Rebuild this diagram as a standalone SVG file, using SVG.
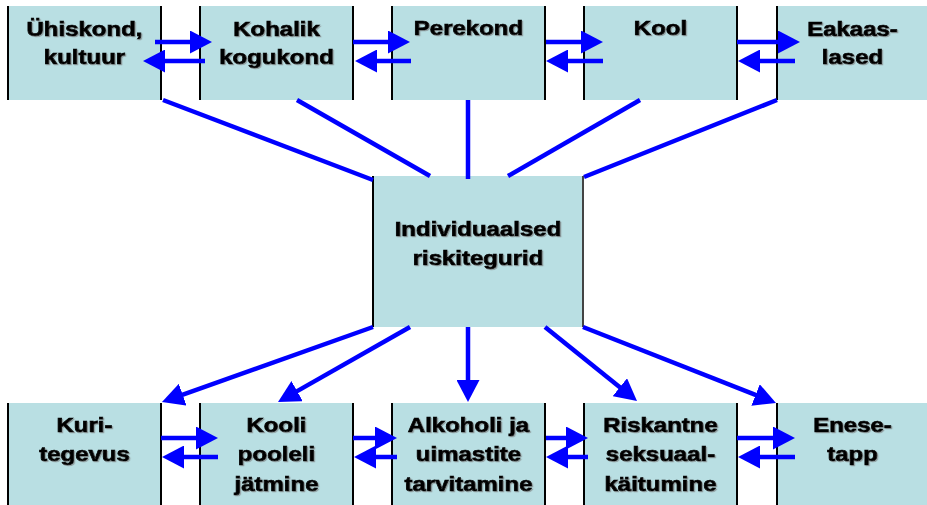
<svg xmlns="http://www.w3.org/2000/svg" width="927" height="505" viewBox="0 0 927 505">
<style>
.box{fill:#B9DFE3;stroke:none}
.side{stroke:#000;stroke-width:2}
.lbl{font-family:"Liberation Sans",Arial,sans-serif;font-weight:bold;font-size:20px;fill:#000;stroke:#000;stroke-width:0.7;text-anchor:middle}
.c{stroke:#0000FF;stroke-width:4.5;fill:none}
.a{stroke:#0000FF;stroke-width:4.5;fill:none;marker-end:url(#ah)}
</style>
<defs>
<marker id="ah" markerUnits="userSpaceOnUse" viewBox="0 0 22 23" markerWidth="22" markerHeight="23" refX="2" refY="11.5" orient="auto">
<path d="M0,0 L22,11.5 L0,23 z" fill="#0000FF"/>
</marker>
<filter id="sh" x="-5%" y="-5%" width="110%" height="110%">
<feDropShadow dx="1" dy="1" stdDeviation="0.6" flood-color="#777" flood-opacity="0.6"/>
</filter>
</defs>
<rect width="927" height="505" fill="#fff"/>

<g id="n1">
<rect class="box" x="8" y="6" width="153" height="94"/>
<line class="side" x1="8" y1="6" x2="8" y2="100"/><line class="side" x1="161" y1="6" x2="161" y2="100"/>
<text class="lbl" filter="url(#sh)" transform="translate(84.5 36) scale(1.2 1)"><tspan x="0" y="0">Ühiskond,</tspan><tspan x="0" y="28.5">kultuur</tspan></text>
</g>
<g id="n2">
<rect class="box" x="200" y="6" width="153" height="94"/>
<line class="side" x1="200" y1="6" x2="200" y2="100"/><line class="side" x1="353" y1="6" x2="353" y2="100"/>
<text class="lbl" filter="url(#sh)" transform="translate(276.5 36) scale(1.2 1)"><tspan x="0" y="0">Kohalik</tspan><tspan x="0" y="28.5">kogukond</tspan></text>
</g>
<g id="n3">
<rect class="box" x="392" y="6" width="153" height="94"/>
<line class="side" x1="392" y1="6" x2="392" y2="100"/><line class="side" x1="545" y1="6" x2="545" y2="100"/>
<text class="lbl" filter="url(#sh)" transform="translate(468.5 35) scale(1.2 1)"><tspan x="0" y="0">Perekond</tspan></text>
</g>
<g id="n4">
<rect class="box" x="584" y="6" width="153" height="94"/>
<line class="side" x1="584" y1="6" x2="584" y2="100"/><line class="side" x1="737" y1="6" x2="737" y2="100"/>
<text class="lbl" filter="url(#sh)" transform="translate(660.5 35) scale(1.2 1)"><tspan x="0" y="0">Kool</tspan></text>
</g>
<g id="n5">
<rect class="box" x="777" y="6" width="153" height="94"/>
<line class="side" x1="777" y1="6" x2="777" y2="100"/>
<text class="lbl" filter="url(#sh)" transform="translate(852.5 36) scale(1.2 1)"><tspan x="0" y="0">Eakaas-</tspan><tspan x="0" y="28.5">lased</tspan></text>
</g>

<g id="center">
<rect class="box" x="373" y="176" width="210" height="151"/>
<line class="side" x1="373" y1="176" x2="373" y2="327"/><line class="side" x1="583" y1="176" x2="583" y2="327" style="stroke:#444"/>
<text class="lbl" filter="url(#sh)" transform="translate(478 236) scale(1.2 1)"><tspan x="0" y="0">Individuaalsed</tspan><tspan x="0" y="29">riskitegurid</tspan></text>
</g>

<g id="b1">
<rect class="box" x="8" y="403" width="153" height="102"/>
<line class="side" x1="8" y1="403" x2="8" y2="505"/><line class="side" x1="161" y1="403" x2="161" y2="505"/>
<text class="lbl" filter="url(#sh)" transform="translate(84.5 432) scale(1.2 1)"><tspan x="0" y="0">Kuri-</tspan><tspan x="0" y="29.5">tegevus</tspan></text>
</g>
<g id="b2">
<rect class="box" x="200" y="403" width="153" height="102"/>
<line class="side" x1="200" y1="403" x2="200" y2="505"/><line class="side" x1="353" y1="403" x2="353" y2="505"/>
<text class="lbl" filter="url(#sh)" transform="translate(276.5 432) scale(1.2 1)"><tspan x="0" y="0">Kooli</tspan><tspan x="0" y="29.5">pooleli</tspan><tspan x="0" y="59">jätmine</tspan></text>
</g>
<g id="b3">
<rect class="box" x="392" y="403" width="153" height="102"/>
<line class="side" x1="392" y1="403" x2="392" y2="505"/><line class="side" x1="545" y1="403" x2="545" y2="505"/>
<text class="lbl" filter="url(#sh)" transform="translate(468.5 432) scale(1.2 1)"><tspan x="0" y="0">Alkoholi ja</tspan><tspan x="0" y="29.5">uimastite</tspan><tspan x="0" y="59">tarvitamine</tspan></text>
</g>
<g id="b4">
<rect class="box" x="584" y="403" width="153" height="102"/>
<line class="side" x1="584" y1="403" x2="584" y2="505"/><line class="side" x1="737" y1="403" x2="737" y2="505"/>
<text class="lbl" filter="url(#sh)" transform="translate(660.5 432) scale(1.2 1)"><tspan x="0" y="0">Riskantne</tspan><tspan x="0" y="29.5">seksuaal-</tspan><tspan x="0" y="59">käitumine</tspan></text>
</g>
<g id="b5">
<rect class="box" x="777" y="403" width="153" height="102"/>
<line class="side" x1="777" y1="403" x2="777" y2="505"/>
<text class="lbl" filter="url(#sh)" transform="translate(852.5 432) scale(1.2 1)"><tspan x="0" y="0">Enese-</tspan><tspan x="0" y="29.5">tapp</tspan></text>
</g>

<g id="connectors">
<line class="a" x1="155" y1="42" x2="192" y2="42"/>
<line class="a" x1="205" y1="61" x2="163" y2="61"/>
<line class="a" x1="353" y1="42" x2="390" y2="42"/>
<line class="a" x1="411" y1="61" x2="375" y2="61"/>
<line class="a" x1="546" y1="42" x2="583" y2="42"/>
<line class="a" x1="603" y1="61" x2="566" y2="61"/>
<line class="a" x1="737" y1="42" x2="780" y2="42"/>
<line class="a" x1="795" y1="61" x2="758" y2="61"/>

<line class="a" x1="161" y1="438" x2="198" y2="438"/>
<line class="a" x1="218" y1="457" x2="182" y2="457"/>
<line class="a" x1="353" y1="438" x2="377" y2="438"/>
<line class="a" x1="397" y1="457" x2="374" y2="457"/>
<line class="a" x1="546" y1="438" x2="568" y2="438"/>
<line class="a" x1="588" y1="457" x2="566" y2="457"/>
<line class="a" x1="737" y1="438" x2="775" y2="438"/>
<line class="a" x1="795" y1="457" x2="758" y2="457"/>

<line class="c" x1="163" y1="100" x2="373" y2="180"/>
<line class="c" x1="297" y1="100" x2="430" y2="176"/>
<line class="c" x1="468" y1="100" x2="468" y2="179"/>
<line class="c" x1="640" y1="100" x2="508" y2="176"/>
<line class="c" x1="777" y1="100" x2="584" y2="177"/>

<line class="a" x1="373" y1="327" x2="180.8" y2="395.3"/>
<line class="a" x1="410" y1="327" x2="295.4" y2="392.1"/>
<line class="a" x1="468" y1="327" x2="468" y2="382"/>
<line class="a" x1="545" y1="327" x2="621.4" y2="388.5"/>
<line class="a" x1="583" y1="327" x2="757.4" y2="395.7"/>
</g>
</svg>
